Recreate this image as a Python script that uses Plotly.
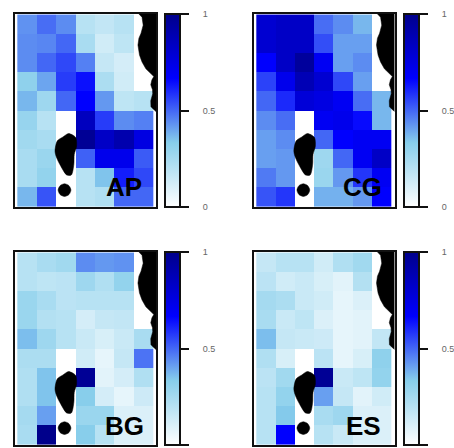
import plotly.graph_objects as go

nan = None
W, H = 454, 448

colorscale = [[0, "#ffffff"], [1/3, "#87ceeb"], [2/3, "#0000ff"], [1, "#00008b"]]
colorbar_ticks = [0, 0.5, 1]
pad = "\u00a0" * 5
colorbar_ticktext = [pad + "0", pad + "0.5", pad + "1"]
columns = [0, 1, 2, 3, 4, 5, 6]
rows = [0, 1, 2, 3, 4, 5, 6, 7, 8, 9]

AP = [
    [.43, .49, .44, .20, .17, .20, nan],
    [.44, .45, .50, .24, .13, .18, nan],
    [.44, .50, .55, .46, .16, .12, nan],
    [.31, .40, .57, .64, .23, .13, nan],
    [.37, .27, .50, .67, .42, .18, .20],
    [.29, .20, nan, .85, .57, .44, .46],
    [.26, .24, nan, .97, .83, .90, .75],
    [.24, .28, nan, .51, .72, .72, .52],
    [.24, .30, nan, .20, .35, .62, .55],
    [.37, .53, nan, .20, .22, .50, .50],
]
CG = [
    [.80, .83, .83, .49, .44, .37, nan],
    [.80, .83, .83, .54, .41, .41, nan],
    [.67, .83, .95, .70, .41, .44, nan],
    [.56, .72, .88, .80, .55, .41, nan],
    [.50, .60, .78, .75, .70, .49, .37],
    [.44, .49, nan, .70, .72, .65, .37],
    [.41, .44, nan, .50, .67, .70, .70],
    [.41, .42, nan, .27, .50, .70, .83],
    [.47, .42, nan, .28, .42, .58, .70],
    [.53, .58, nan, .38, .38, .42, .67],
]
BG = [
    [.20, .24, .26, .44, .42, .43, nan],
    [.20, .18, .19, .27, .22, .30, nan],
    [.28, .24, .19, .20, .20, .20, nan],
    [.28, .21, .20, .12, .16, .17, nan],
    [.36, .27, .20, .15, .11, .15, .24],
    [.23, .23, nan, .13, .07, .16, .48],
    [.22, .35, nan, .97, .08, .12, .22],
    [.22, .35, nan, .33, .12, .07, .14],
    [.25, .41, nan, .28, .28, .10, .10],
    [.24, 1.0, nan, .33, .20, .10, .10],
]
ES = [
    [.16, .20, .20, .13, .22, .26, nan],
    [.19, .13, .15, .11, .08, .21, nan],
    [.25, .23, .15, .13, .07, .10, nan],
    [.24, .15, .18, .10, .07, .08, nan],
    [.36, .16, .15, .14, .07, .08, .17],
    [.22, .11, nan, .19, .07, .11, .31],
    [.19, .26, nan, .97, .15, .18, .30],
    [.20, .30, nan, .41, .16, .08, .13],
    [.20, .34, nan, .24, .27, .10, .10],
    [.20, .67, nan, .20, .15, .10, .10],
]
names = ["AP", "CG", "BG", "ES"]
grids = [AP, CG, BG, ES]

coast_x = [5.76, 5.92, 5.98, 5.87, 5.76, 5.71, 5.79, 5.92, 6.12, 6.33, 6.53, 6.43, 6.37, 6.46, 6.47, 6.37, 6.38, 6.48, 6.64, 6.64]
coast_y = [-.53, -.36, .05, .47, .73, 1.09, 1.61, 1.97, 2.33, 2.54, 2.73, 2.90, 3.16, 3.42, 3.63, 3.99, 4.30, 4.41, 4.55, -.53]
island_x = [2.14, 2.50, 2.55, 2.43, 2.41, 2.28, 2.04, 1.76, 1.53, 1.44, 1.56, 1.85]
island_y = [5.70, 5.90, 6.36, 6.79, 7.31, 7.86, 7.86, 7.44, 6.98, 6.62, 6.08, 5.88]
islet_x = [1.93, 2.16, 2.26, 2.16, 1.93, 1.70, 1.60, 1.70]
islet_y = [8.32, 8.42, 8.65, 8.88, 8.98, 8.88, 8.65, 8.42]

# pixel layout: (left, right, top, bottom) of the frames, colourbar left edges, label centres
frames = [(15, 156, 14, 207), (254, 394.5, 14, 207), (15, 156, 252, 445), (254, 394.5, 252, 445)]
bars = [165, 404, 165, 404]
labels = [(124, 187), (362, 187), (124, 426), (363, 426)]

fig = go.Figure()
layout = {}
for i, (name, grid) in enumerate(zip(names, grids)):
    n = "" if i == 0 else str(i + 1)
    l, r, t, b = frames[i]
    fig.add_trace(go.Heatmap(z=grid, x=columns, y=rows, coloraxis="coloraxis" + n,
                             xaxis="x" + n, yaxis="y" + n, hoverongaps=False, xgap=0, ygap=0))
    fig.add_trace(go.Scatter(x=coast_x, y=coast_y, mode="lines", fill="toself", fillcolor="black",
                             line=dict(color="black", width=0.5), hoverinfo="skip",
                             showlegend=False, xaxis="x" + n, yaxis="y" + n))
    for px, py in [(island_x, island_y), (islet_x, islet_y)]:
        fig.add_trace(go.Scatter(x=px + px[:1], y=py + py[:1], mode="lines", fill="toself", fillcolor="black",
                                 line=dict(color="black", width=0.5, shape="spline", smoothing=0.8),
                                 hoverinfo="skip", showlegend=False, xaxis="x" + n, yaxis="y" + n))
    axis = dict(showgrid=False, zeroline=False, showticklabels=False, ticks="", mirror=True,
                showline=True, linecolor="#111111", linewidth=2)
    layout["xaxis" + n] = dict(axis, domain=[l / W, r / W], range=[-0.62, 6.64], anchor="y" + n)
    layout["yaxis" + n] = dict(axis, domain=[1 - b / H, 1 - t / H], range=[9.53, -0.53], anchor="x" + n)
    layout["coloraxis" + n] = dict(
        cmin=0, cmax=1, colorscale=colorscale,
        colorbar=dict(x=bars[i] / W, xanchor="left", xpad=0, ypad=0, thickness=15,
                      thicknessmode="pixels", y=1 - b / H, yanchor="bottom",
                      len=(b - t) / H, lenmode="fraction",
                      outlinecolor="#111111", outlinewidth=2, borderwidth=0,
                      tickmode="array", tickvals=colorbar_ticks, ticktext=colorbar_ticktext,
                      ticks="outside", ticklen=8, tickwidth=2, tickcolor="#111111",
                      tickfont=dict(family="Liberation Sans", size=9, color="#666666")))

annotations = [dict(text="<b>%s</b>" % name, x=labels[i][0] / W, y=1 - labels[i][1] / H, xref="paper", yref="paper",
                    showarrow=False, xanchor="center", yanchor="middle",
                    font=dict(family="Liberation Sans", size=26, color="black"))
               for i, name in enumerate(names)]

fig.update_layout(width=W, height=H, margin=dict(l=0, r=0, t=0, b=0, autoexpand=False), paper_bgcolor="white",
                  plot_bgcolor="white", showlegend=False, annotations=annotations, **layout)
fig.write_html("out.html", post_script="document.body.style.margin='0';", config={"displayModeBar": False})
